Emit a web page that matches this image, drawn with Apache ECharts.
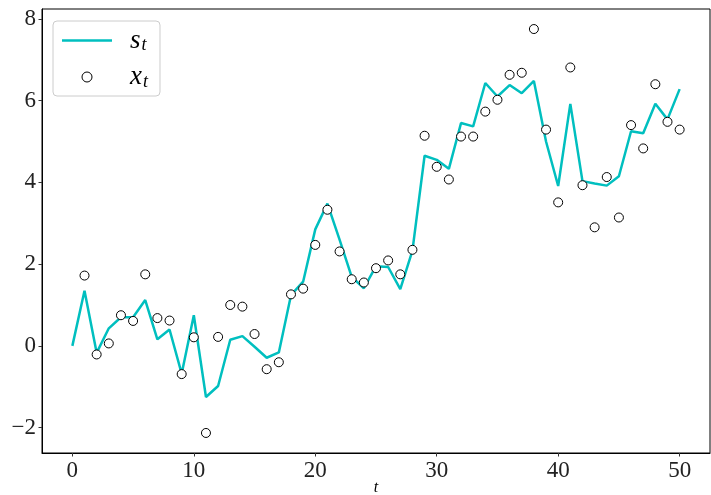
<!DOCTYPE html>
<html>
<head>
<meta charset="utf-8">
<style>
  html, body { margin: 0; padding: 0; background: #fff; }
  #main { width: 711px; height: 495px; }
</style>
<script src="https://cdn.jsdelivr.net/npm/echarts@6/dist/echarts.min.js"></script>
</head>
<body>
<div id="main"></div>
<script>
// time steps
var steps = [0,1,2,3,4,5,6,7,8,9,10,11,12,13,14,15,16,17,18,19,20,21,22,23,24,25,
             26,27,28,29,30,31,32,33,34,35,36,37,38,39,40,41,42,43,44,45,46,47,48,49,50];
// s_t (line)
var sVals = [0, 1.35, -0.17, 0.43, 0.70, 0.70, 1.12, 0.16, 0.40, -0.68,
             0.75, -1.25, -0.98, 0.15, 0.24, -0.02, -0.29, -0.16, 1.24, 1.57,
             2.85, 3.48, 2.60, 1.69, 1.41, 1.95, 1.93, 1.39, 2.33, 4.65,
             4.55, 4.33, 5.45, 5.37, 6.43, 6.10, 6.38, 6.18, 6.48, 5.00,
             3.91, 5.92, 4.03, 3.97, 3.92, 4.15, 5.25, 5.20, 5.92, 5.54, 6.28];
// x_t (observations, from t = 1)
var xVals = [null, 1.72, -0.21, 0.06, 0.75, 0.61, 1.75, 0.68, 0.62, -0.69,
             0.21, -2.13, 0.22, 1.00, 0.96, 0.29, -0.57, -0.40, 1.26, 1.40,
             2.47, 3.33, 2.31, 1.63, 1.55, 1.90, 2.09, 1.75, 2.35, 5.14,
             4.38, 4.07, 5.12, 5.12, 5.73, 6.02, 6.63, 6.68, 7.75, 5.29,
             3.51, 6.81, 3.93, 2.90, 4.13, 3.14, 5.40, 4.83, 6.40, 5.48, 5.29];
var xTicks = [0, 10, 20, 30, 40, 50];
var yTicks = [-2, 0, 2, 4, 6, 8];

var serif = 'Liberation Serif';

var sData = [], xData = [];
for (var i = 0; i < steps.length; i++) {
    sData.push([steps[i], sVals[i]]);
    if (xVals[i] !== null) xData.push([steps[i], xVals[i]]);
}

var dom = document.getElementById("main");
var myChart = echarts.init(dom);
var option = {
    animation: false,
    grid: {
        left: 42, right: 1, top: 9, bottom: 42,
        outerBoundsMode: 'none',
        containLabel: false,
        show: true,
        borderColor: '#000',
        borderWidth: 1
    },
    legend: {
        orient: 'vertical',
        left: 53, top: 21,
        padding: [6, 12, 5, 9],
        itemGap: 9,
        itemWidth: 50,
        itemHeight: 10,
        backgroundColor: '#fff',
        borderColor: '#ccc',
        borderWidth: 1,
        borderRadius: 4,
        data: [
            {name: 's', icon: 'path://M0,0 L40,0 L40,2 L0,2 Z', itemStyle: {color: '#00bfbf'}},
            {name: 'x', icon: 'circle', itemStyle: {color: '#fff', borderColor: '#000', borderWidth: 1}}
        ],
        formatter: function (name) {
            return '{m|' + name + '}{sub|t}';
        },
        textStyle: {
            lineHeight: 24,
            rich: {
                m: {fontFamily: serif, fontStyle: 'italic', fontSize: 27, color: '#000', padding: [0, 0, 0, 13]},
                sub: {fontFamily: serif, fontStyle: 'italic', fontSize: 18, color: '#000', padding: [10, 0, 0, 1]}
            }
        }
    },
    xAxis: {
        type: 'value',
        min: -2.5, max: 52.5,
        name: 't',
        nameLocation: 'middle',
        nameGap: 27,
        nameMoveOverlap: false,
        nameTextStyle: {fontFamily: serif, fontStyle: 'italic', fontSize: 16, color: '#000'},
        splitLine: {show: false},
        axisLine: {onZero: false, lineStyle: {color: '#000'}},
        axisTick: {customValues: xTicks, length: 3.5, lineStyle: {color: '#333'}},
        axisLabel: {customValues: xTicks, fontFamily: serif, fontSize: 23, color: '#222', margin: 6}
    },
    yAxis: {
        type: 'value',
        min: -2.62, max: 8.24,
        splitLine: {show: false},
        axisLine: {show: true, onZero: false, lineStyle: {color: '#000'}},
        axisTick: {show: true, customValues: yTicks, length: 3.5, lineStyle: {color: '#333'}},
        axisLabel: {
            customValues: yTicks, fontFamily: serif, fontSize: 23, color: '#222', margin: 6,
            formatter: function (v) { return String(v).replace('-', '\u2212'); }
        }
    },
    series: [
        {
            name: 's',
            type: 'line',
            data: sData,
            symbol: 'none',
            z: 2,
            lineStyle: {color: '#00bfbf', width: 2.5},
            itemStyle: {color: '#00bfbf'}
        },
        {
            name: 'x',
            type: 'scatter',
            data: xData,
            symbol: 'circle',
            symbolSize: 9,
            z: 3,
            itemStyle: {color: '#fff', borderColor: '#000', borderWidth: 1, opacity: 1}
        }
    ]
};
myChart.setOption(option);
</script>
</body>
</html>
